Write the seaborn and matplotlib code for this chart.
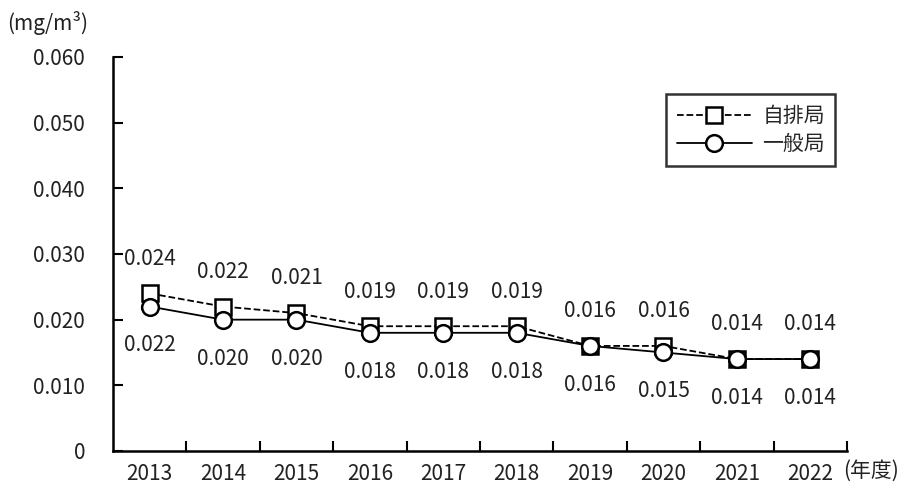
import matplotlib
matplotlib.use("Agg")
import matplotlib.pyplot as plt
import seaborn as sns
import pandas as pd

# values
years = ["2013", "2014", "2015", "2016", "2017", "2018", "2019", "2020", "2021", "2022"]
jihai = [0.024, 0.022, 0.021, 0.019, 0.019, 0.019, 0.016, 0.016, 0.014, 0.014]
ippan = [0.022, 0.020, 0.020, 0.018, 0.018, 0.018, 0.016, 0.015, 0.014, 0.014]
yticks = [0, 0.010, 0.020, 0.030, 0.040, 0.050, 0.060]
ytick_labels = ["0", "0.010", "0.020", "0.030", "0.040", "0.050", "0.060"]

sns.set_theme(style="white")
plt.rcParams['font.family'] = ['Noto Sans CJK JP', 'DejaVu Sans']

fs = 15
txt_color = "#222222"

df = pd.DataFrame({"pos": range(len(years)), "jihai": jihai, "ippan": ippan})

fig = plt.figure(figsize=(9.14, 4.93), dpi=100)
ax = fig.add_axes([0.1236, 0.0852, 0.8031, 0.7992])

sns.lineplot(data=df, x="pos", y="jihai", ax=ax, color="black", linestyle="--",
             linewidth=1.3, marker="s", markersize=12, markerfacecolor="white",
             markeredgecolor="black", markeredgewidth=1.8, label="自排局")
sns.lineplot(data=df, x="pos", y="ippan", ax=ax, color="black", linestyle="-",
             linewidth=1.3, marker="o", markersize=12, markerfacecolor="white",
             markeredgecolor="black", markeredgewidth=1.8, label="一般局")

# data labels: 自排局 above, 一般局 below
for i, v in enumerate(jihai):
    ax.annotate(f"{v:.3f}", (i, v), xytext=(0, 25), textcoords="offset points",
                ha="center", va="center", fontsize=fs, color=txt_color)
for i, v in enumerate(ippan):
    ax.annotate(f"{v:.3f}", (i, v), xytext=(0, -28), textcoords="offset points",
                ha="center", va="center", fontsize=fs, color=txt_color)

ax.set_xlim(-0.5, len(years) - 0.5)
ax.set_ylim(0, 0.060)
ax.set_yticks(yticks)
ax.set_yticklabels(ytick_labels, fontsize=fs, color=txt_color)
ax.set_xticks(range(len(years)))
ax.set_xticklabels(years, fontsize=fs, color=txt_color)
ax.set_xticks([i + 0.5 for i in range(len(years))], minor=True)
ax.tick_params(axis="x", which="major", length=0, pad=9)
ax.tick_params(axis="x", which="minor", direction="in", length=7, width=1.5, color="black", bottom=True)
ax.tick_params(axis="y", direction="in", length=7, width=1.5, color="black", left=True, pad=20)
ax.set_xlabel("")
ax.set_ylabel("")

for side in ["top", "right"]:
    ax.spines[side].set_visible(False)
for side in ["left", "bottom"]:
    ax.spines[side].set_color("black")
    ax.spines[side].set_linewidth(1.8)

fig.text(0.008, 0.953, "(mg/m³)", fontsize=fs, ha="left", va="center", color=txt_color)
fig.text(0.922, 0.045, "(年度)", fontsize=fs, ha="left", va="center", color=txt_color)

leg = ax.legend(loc="upper right", bbox_to_anchor=(0.984, 0.905), borderaxespad=0,
                fontsize=fs, frameon=True, fancybox=False, edgecolor="black",
                handlelength=3.6, handletextpad=0.5, borderpad=0.5, labelspacing=0.3)
leg.get_frame().set_linewidth(1.8)

fig.savefig("out.png", dpi=100, facecolor="white")
